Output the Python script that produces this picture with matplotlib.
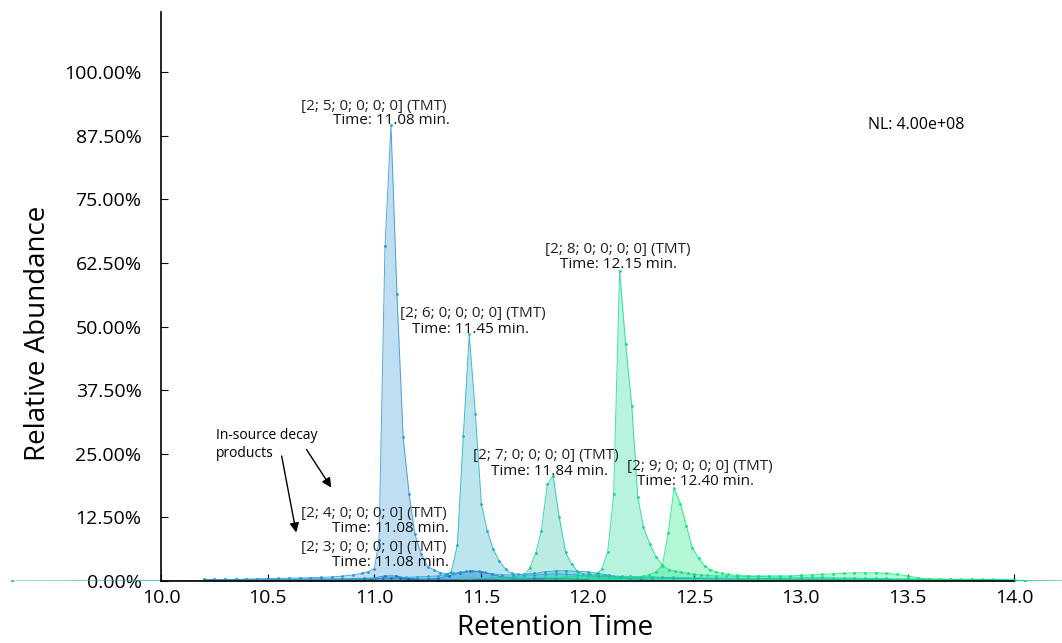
import numpy as np
import matplotlib
matplotlib.use("Agg")
import matplotlib.pyplot as plt

plt.rcParams["font.family"] = ["Open Sans", "DejaVu Sans"]

# ======================================================================
# Chromatogram data (retention time in min, relative abundance in %)
# ======================================================================
t3 = [10.20, 10.30, 10.40, 10.50, 10.60, 10.70, 10.80, 10.90, 10.95, 11.00, 11.04, 11.08,
      11.12, 11.16, 11.20, 11.30, 11.40, 11.50, 11.60, 11.70, 11.80, 11.90, 12.00]
v3 = [0.10, 0.12, 0.12, 0.15, 0.15, 0.15, 0.18, 0.20, 0.22, 0.30, 0.50, 0.60,
      0.55, 0.35, 0.20, 0.20, 0.25, 0.25, 0.20, 0.20, 0.15, 0.15, 0.10]

t4 = [10.20, 10.25, 10.30, 10.35, 10.40, 10.45, 10.50, 10.55, 10.60, 10.65, 10.70, 10.75,
      10.80, 10.85, 10.90, 10.95, 11.00, 11.05, 11.10, 11.15, 11.20, 11.25, 11.30, 11.35,
      11.40, 11.45, 11.50, 11.55, 11.60, 11.65, 11.70, 11.75, 11.80, 11.85, 11.90, 11.95, 12.00]
v4 = [0.30, 0.30, 0.30, 0.30, 0.30, 0.35, 0.35, 0.35, 0.35, 0.35, 0.40, 0.40,
      0.40, 0.40, 0.45, 0.50, 0.60, 1.00, 1.00, 0.60, 0.40, 0.40, 0.50, 1.00,
      1.60, 1.90, 1.80, 1.30, 0.80, 0.60, 0.50, 0.50, 0.40, 0.40, 0.40, 0.30, 0.30]

t5 = [10.20, 10.25, 10.30, 10.35, 10.40, 10.45, 10.50, 10.55, 10.60, 10.65, 10.70, 10.75,
      10.80, 10.85, 10.90, 10.94, 10.97, 11.00, 11.022, 11.050, 11.078, 11.106, 11.135,
      11.163, 11.190, 11.220, 11.250, 11.280, 11.310, 11.340, 11.370, 11.400, 11.430,
      11.460, 11.490, 11.520, 11.550, 11.600, 11.650, 11.700, 11.750, 11.800, 11.850,
      11.900, 11.950, 12.000, 12.050, 12.100, 12.150, 12.200, 12.250, 12.300]
v5 = [0.20, 0.25, 0.30, 0.30, 0.35, 0.40, 0.45, 0.50, 0.55, 0.60, 0.65, 0.70,
      0.80, 0.95, 1.20, 1.50, 1.80, 2.40, 8.00, 65.8, 89.5, 56.4, 28.3,
      17.1, 9.20, 5.30, 2.80, 2.20, 1.60, 1.40, 1.50, 1.70, 1.90,
      2.00, 1.90, 1.70, 1.40, 1.20, 1.20, 1.30, 1.50, 1.80, 2.00,
      2.00, 1.90, 1.80, 1.50, 1.10, 0.70, 0.50, 0.30, 0.10]

t6 = [9.30, 10.20, 10.40, 10.60, 10.80, 10.90, 11.00, 11.05, 11.10, 11.15, 11.20, 11.25,
      11.30, 11.33, 11.36, 11.389, 11.417, 11.445, 11.474, 11.502, 11.530, 11.558, 11.586,
      11.616, 11.644, 11.672, 11.70, 11.75, 11.80, 11.85, 11.90, 11.95, 12.00, 12.05, 12.10,
      12.20, 12.30, 12.40, 12.50, 12.60, 12.80, 13.00, 13.20, 13.40, 13.60, 13.80, 14.00, 14.30]
v6 = [0.0, 0.10, 0.15, 0.20, 0.30, 0.40, 0.50, 0.55, 0.60, 0.70, 0.80, 0.90,
      1.00, 1.20, 1.80, 7.00, 28.5, 48.5, 32.8, 15.1, 9.80, 6.20, 3.90,
      2.30, 1.50, 1.30, 1.20, 1.20, 1.30, 1.40, 1.30, 1.20, 1.00, 0.90, 0.80,
      0.70, 0.60, 0.50, 0.50, 0.40, 0.40, 0.30, 0.30, 0.30, 0.20, 0.20, 0.10, 0.0]

t7 = [11.40, 11.45, 11.50, 11.55, 11.60, 11.65, 11.70, 11.728, 11.757, 11.783, 11.811,
      11.838, 11.867, 11.897, 11.925, 11.954, 11.98, 12.01, 12.04, 12.08, 12.12, 12.16,
      12.20, 12.25, 12.30, 12.35, 12.40, 12.50, 12.60, 12.70, 12.80, 12.90, 13.00, 13.10,
      13.20, 13.30, 13.40, 13.50, 13.60, 13.70, 13.80, 13.90, 14.00]
v7 = [0.30, 0.40, 0.50, 0.60, 0.70, 0.80, 1.00, 2.50, 5.50, 9.90, 19.0,
      20.7, 12.5, 5.60, 3.30, 1.80, 1.40, 1.30, 1.20, 1.10, 1.00, 0.90,
      0.90, 0.80, 0.80, 0.70, 0.70, 0.60, 0.60, 0.50, 0.50, 0.50, 0.40, 0.40,
      0.40, 0.30, 0.30, 0.30, 0.30, 0.20, 0.20, 0.20, 0.10]

t8 = [11.60, 11.70, 11.80, 11.90, 11.95, 12.00, 12.04, 12.066, 12.094, 12.122, 12.150,
      12.178, 12.207, 12.235, 12.261, 12.291, 12.320, 12.350, 12.380, 12.41, 12.44, 12.47,
      12.50, 12.53, 12.56, 12.60, 12.65, 12.70, 12.75, 12.80, 12.85, 12.90, 12.95, 13.00,
      13.05, 13.10, 13.15, 13.20, 13.25, 13.30, 13.35, 13.40, 13.45, 13.50, 13.55, 13.60,
      13.70, 13.80, 13.90, 14.00, 14.05]
v8 = [0.30, 0.50, 0.70, 0.80, 0.90, 1.00, 1.40, 2.30, 5.70, 17.0, 61.0,
      46.6, 34.4, 16.5, 10.7, 7.30, 4.80, 3.20, 2.20, 1.90, 1.70, 1.50,
      1.30, 1.20, 1.10, 1.00, 1.00, 0.90, 0.90, 0.90, 0.80, 0.80, 0.80, 0.70,
      0.70, 0.70, 0.60, 0.60, 0.60, 0.50, 0.50, 0.50, 0.40, 0.40, 0.35, 0.30,
      0.30, 0.30, 0.25, 0.20, 0.0]

t9 = [11.80, 11.90, 12.00, 12.10, 12.20, 12.26, 12.29, 12.32, 12.350, 12.378, 12.405,
      12.435, 12.463, 12.491, 12.520, 12.548, 12.576, 12.60, 12.63, 12.66, 12.70, 12.75,
      12.80, 12.85, 12.90, 12.95, 13.00, 13.05, 13.10, 13.15, 13.20, 13.25, 13.30, 13.35,
      13.40, 13.45, 13.50, 13.55, 13.60, 13.65, 13.70, 13.75, 13.80, 13.85, 13.90, 13.95,
      14.00, 14.05]
v9 = [0.20, 0.30, 0.40, 0.50, 0.70, 0.90, 1.20, 1.80, 3.00, 9.50, 18.2,
      15.2, 10.8, 6.50, 4.50, 3.00, 2.20, 1.80, 1.50, 1.30, 1.10, 1.00,
      1.00, 1.00, 1.00, 1.00, 1.10, 1.20, 1.30, 1.40, 1.50, 1.60, 1.60, 1.60,
      1.50, 1.30, 1.00, 0.60, 0.40, 0.40, 0.30, 0.30, 0.30, 0.30, 0.30, 0.20,
      0.20, 0.0]

series = [
    (t3, v3, "#1a4fb5"),
    (t4, v4, "#1f6fc4"),
    (t5, v5, "#2e93d6"),
    (t6, v6, "#1eaec4"),
    (t7, v7, "#1cc2a6"),
    (t8, v8, "#16d891"),
    (t9, v9, "#0ae877"),
]

# peak labels: (line 1, x1, y1, line 2, x2, y2)
labels = [
    ("[2; 5; 0; 0; 0; 0] (TMT)", 10.999, 93.3, "Time: 11.08 min.", 11.078, 90.4),
    ("[2; 6; 0; 0; 0; 0] (TMT)", 11.463, 52.5, "Time: 11.45 min.", 11.449, 49.5),
    ("[2; 7; 0; 0; 0; 0] (TMT)", 11.805, 24.6, "Time: 11.84 min.", 11.819, 21.6),
    ("[2; 8; 0; 0; 0; 0] (TMT)", 12.143, 65.2, "Time: 12.15 min.", 12.147, 62.1),
    ("[2; 9; 0; 0; 0; 0] (TMT)", 12.527, 22.4, "Time: 12.40 min.", 12.508, 19.6),
    ("[2; 4; 0; 0; 0; 0] (TMT)", 10.999, 13.3, "Time: 11.08 min.", 11.074, 10.4),
    ("[2; 3; 0; 0; 0; 0] (TMT)", 10.999, 6.6, "Time: 11.08 min.", 11.074, 3.7),
]

yticks = [0, 12.5, 25, 37.5, 50, 62.5, 75, 87.5, 100]
xticks = [10.0, 10.5, 11.0, 11.5, 12.0, 12.5, 13.0, 13.5, 14.0]

# ======================================================================
# Figure
# ======================================================================
fig = plt.figure(figsize=(10.62, 6.43), dpi=100)
ax = fig.add_axes([0.0, 62 / 643, 1.0, 569 / 643])

for t, v, c in series:
    ax.fill_between(t, v, 0, color=c, alpha=0.3, linewidth=0)
    ax.plot(t, v, color=c, linewidth=0.7, alpha=0.8)
    ax.plot(t, v, "o", color=c, markersize=2.0, markeredgewidth=0)

for l1, x1, y1, l2, x2, y2 in labels:
    ax.text(x1, y1, l1, ha="center", va="center", fontsize=11, color="#222222")
    ax.text(x2, y2, l2, ha="center", va="center", fontsize=11, color="#111111")

ax.text(13.315, 89.6, "NL: 4.00e+08", ha="left", va="center", fontsize=11.5)

ax.text(10.258, 26.8, "In-source decay\nproducts", ha="left", va="center",
        fontsize=10, linespacing=1.3)
ax.annotate("", xy=(10.636, 9.0), xytext=(10.563, 25.1),
            arrowprops=dict(arrowstyle="-|>", color="black", lw=1.0, mutation_scale=14))
ax.annotate("", xy=(10.805, 17.9), xytext=(10.675, 26.3),
            arrowprops=dict(arrowstyle="-|>", color="black", lw=1.0, mutation_scale=14))

ax.set_xlim(9.245, 14.224)
ax.set_ylim(0, 111.8)

for s in ["top", "right"]:
    ax.spines[s].set_visible(False)
ax.spines["left"].set_position(("data", 10.0))
ax.spines["bottom"].set_bounds(10.0, 14.0)
ax.spines["left"].set_linewidth(1.2)
ax.spines["bottom"].set_linewidth(1.2)

ax.set_yticks(yticks)
ax.set_yticklabels([f"{y:.2f}%" for y in yticks])
ax.set_xticks(xticks)
ax.set_xticklabels([f"{x:.1f}" for x in xticks])
ax.tick_params(axis="y", direction="in", length=5, width=0.8, pad=14, labelsize=14)
ax.tick_params(axis="x", direction="in", length=5, width=0.8, pad=6, labelsize=14)

fig.text(38 / 1062, 1 - 333 / 643, "Relative Abundance", rotation=90,
         ha="center", va="center", fontsize=20)
fig.text(555 / 1062, 1 - 628 / 643, "Retention Time", ha="center", va="center", fontsize=20)

fig.savefig("out.png", dpi=100)
plt.close(fig)
